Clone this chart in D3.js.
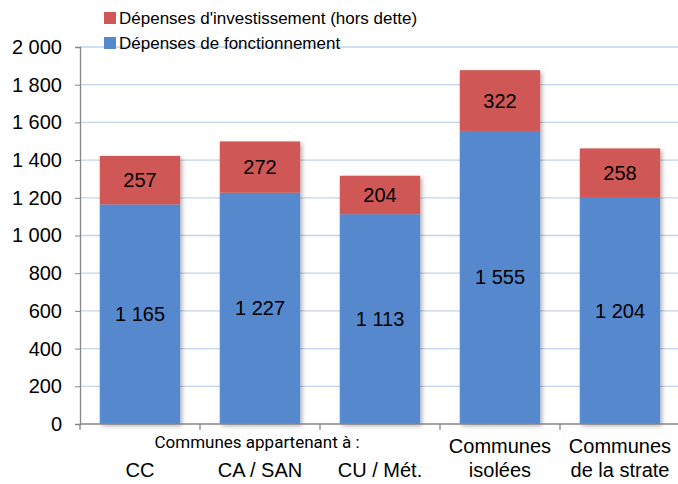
<!DOCTYPE html>
<html>
<head>
<meta charset="utf-8">
<script src="https://cdn.jsdelivr.net/npm/d3@7"></script>
<style>
  body { margin: 0; background: #fff; }
  svg text { font-family: "Liberation Sans", Arial, Helvetica, sans-serif; }
  svg text.narrow { font-family: "Liberation Sans Narrow", "Arial Narrow", "Roboto", sans-serif; }
</style>
</head>
<body>
<svg id="chart" width="678" height="484"></svg>
<script>
const categories = ["CC", "CA / SAN", "CU / Mét.", "isolées", "strate"];
const catLines = [["CC"], ["CA / SAN"], ["CU / Mét."], ["Communes", "isolées"], ["Communes", "de la strate"]];
const fonctionnement = [1165, 1227, 1113, 1555, 1204];
const investissement = [257, 272, 204, 322, 258];
const yTicks = [0, 200, 400, 600, 800, 1000, 1200, 1400, 1600, 1800, 2000];
const seriesNames = ["Dépenses d'investissement (hors dette)", "Dépenses de fonctionnement"];
const colors = { fonct: "#5588cc", invest: "#cf5856" };

const svg = d3.select("#chart");
const x = d3.scaleBand().domain(categories).range([80, 680]).paddingInner(0.33).paddingOuter(0.165);
const y = d3.scaleLinear().domain([0, 2000]).range([424, 47]);
const fmt = v => d3.format(",")(v).replace(/,/g, " ");

const defs = svg.append("defs");
const f = defs.append("filter").attr("id", "sh").attr("x", "-20%").attr("y", "-20%").attr("width", "140%").attr("height", "140%");
f.append("feDropShadow").attr("dx", 2).attr("dy", 2).attr("stdDeviation", 2).attr("flood-color", "#000").attr("flood-opacity", 0.3);

// grid
svg.append("g").selectAll("line").data(yTicks.filter(d => d > 0)).join("line")
  .attr("x1", 80).attr("x2", 678).attr("y1", d => y(d)).attr("y2", d => y(d))
  .attr("stroke", "#c3d4eb").attr("stroke-width", 1.3);

// y axis
const ya = svg.append("g").attr("transform", "translate(80,0)")
  .call(d3.axisLeft(y).tickValues(yTicks).tickFormat(fmt).tickSize(5).tickPadding(13));
ya.attr("font-family", null);
ya.select(".domain").attr("stroke", "#868686").attr("stroke-width", 1.3);
ya.selectAll(".tick line").attr("stroke", "#868686");
ya.selectAll("text").attr("font-size", 20).attr("fill", "#000");

// bars
const data = categories.map((c, i) => ({ c, f: fonctionnement[i], inv: investissement[i] }));
const bars = svg.append("g");
bars.selectAll("g").data(data).join("g").attr("filter", "url(#sh)").each(function(d) {
  const g = d3.select(this);
  g.append("rect").attr("x", x(d.c)).attr("width", x.bandwidth())
    .attr("y", y(d.f)).attr("height", y(0) - y(d.f)).attr("fill", colors.fonct);
  g.append("rect").attr("x", x(d.c)).attr("width", x.bandwidth())
    .attr("y", y(d.f + d.inv)).attr("height", y(d.f) - y(d.f + d.inv)).attr("fill", colors.invest);
});

const labels = svg.append("g").attr("font-size", 20).attr("text-anchor", "middle").attr("fill", "#000");
data.forEach(d => {
  const cx = x(d.c) + x.bandwidth() / 2;
  labels.append("text").attr("x", cx).attr("y", (y(0) + y(d.f)) / 2).attr("dy", "0.35em").text(fmt(d.f));
  labels.append("text").attr("x", cx).attr("y", (y(d.f) + y(d.f + d.inv)) / 2).attr("dy", "0.35em").text(fmt(d.inv));
});

// x axis
const xa = svg.append("g").attr("transform", "translate(0,424)");
xa.append("line").attr("x1", 80).attr("x2", 678).attr("stroke", "#868686").attr("stroke-width", 1.3);
xa.selectAll("line.t").data(categories).join("line").attr("class", "t")
  .attr("x1", d => x(d) - x.step() * x.paddingInner() / 2).attr("x2", d => x(d) - x.step() * x.paddingInner() / 2)
  .attr("y1", 0).attr("y2", 6).attr("stroke", "#868686").attr("stroke-width", 1.3);

const xl = svg.append("g").attr("font-size", 20).attr("text-anchor", "middle");
categories.forEach((c, i) => {
  const cx = x(c) + x.bandwidth() / 2;
  const lines = catLines[i];
  lines.forEach((t, j) => {
    const yy = lines.length === 1 ? 477 : 453 + j * 24;
    xl.append("text").attr("x", cx).attr("y", yy).text(t);
  });
});
svg.append("text").attr("class", "narrow").attr("x", 257).attr("y", 448).attr("text-anchor", "middle")
  .attr("font-size", 17)
  .text("Communes appartenant à :");

// legend
const leg = svg.append("g").attr("font-size", 17);
[[seriesNames[0], colors.invest, 18], [seriesNames[1], colors.fonct, 43]].forEach(([t, col, cy]) => {
  leg.append("rect").attr("x", 104).attr("y", cy - 6).attr("width", 12).attr("height", 12).attr("fill", col);
  leg.append("text").attr("x", 119).attr("y", cy).attr("dy", "0.35em").text(t);
});
</script>
</body>
</html>
